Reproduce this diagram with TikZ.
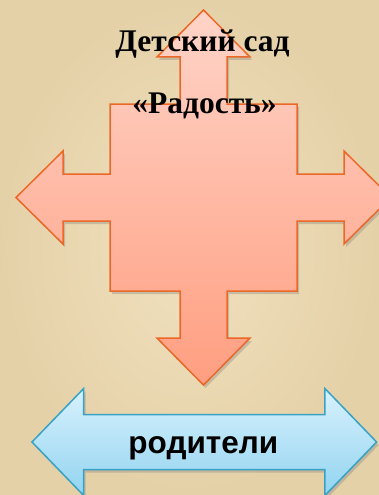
\documentclass[tikz,border=0pt]{standalone}
\usepackage{fontspec}
\setmainfont{Liberation Serif}
\newfontfamily\sansfont{Liberation Sans}
\usetikzlibrary{math,shadows}
\definecolor{paper}{RGB}{240,225,190}
\definecolor{paperdark}{RGB}{229,209,168}
\definecolor{salmontop}{RGB}{255,212,200}
\definecolor{salmonbot}{RGB}{255,158,128}
\definecolor{salmonline}{RGB}{236,104,40}
\definecolor{skytop}{RGB}{216,241,253}
\definecolor{skybot}{RGB}{146,212,240}
\definecolor{skyline}{RGB}{56,162,196}

\tikzset{
  quad/.style={draw=salmonline, line width=1.5pt, line join=miter,
    top color=salmontop, bottom color=salmonbot,
    drop shadow={opacity=0.35, shadow xshift=2pt, shadow yshift=-3pt}},
  dbl/.style={draw=skyline, line width=1.5pt, line join=miter,
    top color=skytop, bottom color=skybot,
    drop shadow={opacity=0.35, shadow xshift=2pt, shadow yshift=-3pt}},
  title/.style={font=\bfseries\fontsize{31.5}{34}\selectfont, anchor=base, inner sep=0pt},
  label/.style={font=\sansfont\bfseries\fontsize{31.5}{34}\selectfont, anchor=base, inner sep=0pt}
}

\begin{document}
\begin{tikzpicture}[x=1pt,y=-1pt]
\tikzmath{
\cx=203.5;
\cy=197.5;
\tip=187.5;
\base=140.5;
\sq=93.5;
\sh=23.5;
\hd=46.5;
}
\useasboundingbox (0,0) rectangle (379,495);
\clip (0,0) rectangle (379,495);
\shade[inner color=paper, outer color=paperdark] (0,0) rectangle (379,495);

%%%%%%%%%% four-way arrow
\path[quad] (\cx,\cy-\tip) -- (\cx+\hd,\cy-\base) -- (\cx+\sh,\cy-\base) -- (\cx+\sh,\cy-\sq)
  -- (\cx+\sq,\cy-\sq) -- (\cx+\sq,\cy-\sh) -- (\cx+\base,\cy-\sh) -- (\cx+\base,\cy-\hd)
  -- (\cx+\tip,\cy) -- (\cx+\base,\cy+\hd) -- (\cx+\base,\cy+\sh) -- (\cx+\sq,\cy+\sh)
  -- (\cx+\sq,\cy+\sq) -- (\cx+\sh,\cy+\sq) -- (\cx+\sh,\cy+\base) -- (\cx+\hd,\cy+\base)
  -- (\cx,\cy+\tip) -- (\cx-\hd,\cy+\base) -- (\cx-\sh,\cy+\base) -- (\cx-\sh,\cy+\sq)
  -- (\cx-\sq,\cy+\sq) -- (\cx-\sq,\cy+\sh) -- (\cx-\base,\cy+\sh) -- (\cx-\base,\cy+\hd)
  -- (\cx-\tip,\cy) -- (\cx-\base,\cy-\hd) -- (\cx-\base,\cy-\sh) -- (\cx-\sq,\cy-\sh)
  -- (\cx-\sq,\cy-\sq) -- (\cx-\sh,\cy-\sq) -- (\cx-\sh,\cy-\base) -- (\cx-\hd,\cy-\base) -- cycle;

\node[title] (kg) at (202.5,51.5) {Детский сад};
\node[title] (kgname) at (204.5,113) {«Радость»};

%%%%%%%%%% left-right arrow
\begin{scope}[shift={(204.3,442)}]
\path[dbl] (-172.3,0) -- (-120.6,-53.5) -- (-120.6,-27.5) -- (120.6,-27.5) -- (120.6,-53.5)
  -- (172.3,0) -- (120.6,53.5) -- (120.6,27.5) -- (-120.6,27.5) -- (-120.6,53.5) -- cycle;
\node[label] (parents) at (-1,11) {родители};
\end{scope}
\end{tikzpicture}
\end{document}
